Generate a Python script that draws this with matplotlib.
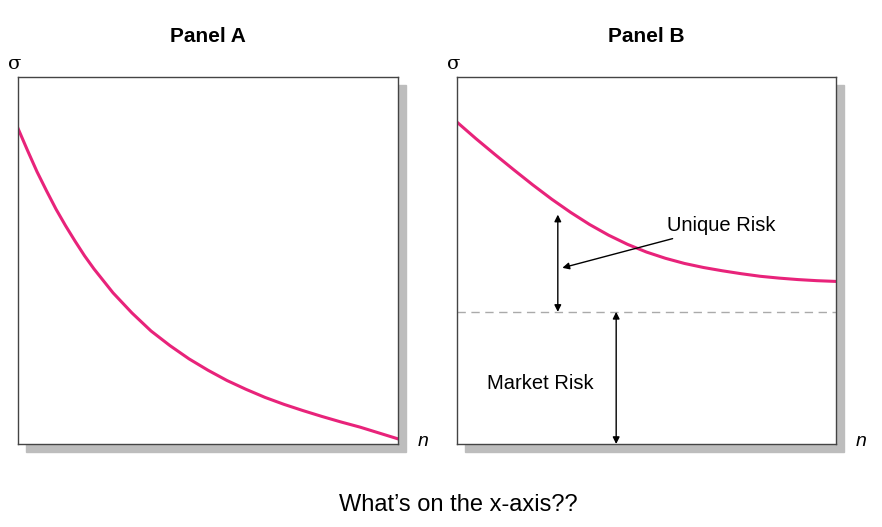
import matplotlib
matplotlib.use("Agg")
import matplotlib.pyplot as plt
from matplotlib.patches import Rectangle

xa = [0, 0.025, 0.05, 0.075, 0.1, 0.125, 0.15, 0.175, 0.2, 0.25, 0.3, 0.35, 0.4, 0.45,
      0.5, 0.55, 0.6, 0.65, 0.7, 0.75, 0.8, 0.85, 0.9, 0.95, 1.0]
ya = [0.86, 0.80, 0.742, 0.69, 0.64, 0.595, 0.553, 0.513, 0.477, 0.412, 0.357, 0.308,
      0.268, 0.232, 0.201, 0.173, 0.149, 0.127, 0.108, 0.091, 0.075, 0.06, 0.046, 0.03, 0.014]
xb = [0, 0.05, 0.1, 0.15, 0.2, 0.25, 0.3, 0.35, 0.4, 0.45, 0.5, 0.55, 0.6, 0.65, 0.7,
      0.75, 0.8, 0.85, 0.9, 0.95, 1.0]
yb = [0.877, 0.832, 0.789, 0.747, 0.706, 0.667, 0.631, 0.598, 0.569, 0.544, 0.523, 0.506,
      0.492, 0.481, 0.472, 0.464, 0.457, 0.452, 0.448, 0.445, 0.443]
market = 0.36

W, H = 882, 527
fig = plt.figure(figsize=(8.82, 5.27), dpi=100)
pink = "#e8237a"
fam = "Liberation Sans"

def box(x0, x1, y0, y1):
    return [x0 / W, 1 - y1 / H, (x1 - x0) / W, (y1 - y0) / H]

for (x0, x1, title, tx) in [(18, 398, "Panel A", 208), (457, 836, "Panel B", 646)]:
    fig.patches.append(Rectangle(((x0 + 8) / W, 1 - 452 / H), (x1 - x0) / W, 367 / H,
                                 transform=fig.transFigure, color="#bdbdbd", zorder=0))
    fig.text(tx / W, 1 - 37 / H, title, ha="center", va="center", fontsize=15,
             fontweight="bold", family=fam)
    fig.text((x0 - 3) / W, 1 - 64 / H, "σ", ha="center", va="center", fontsize=14, family="DejaVu Serif")
    fig.text((x1 + 25) / W, 1 - 441 / H, "n", ha="center", va="center", fontsize=14,
             style="italic", family=fam)

axA = fig.add_axes(box(18, 398, 77, 444))
axB = fig.add_axes(box(457, 836, 77, 444))
for ax in (axA, axB):
    ax.set_xlim(0, 1); ax.set_ylim(0, 1)
    ax.set_xticks([]); ax.set_yticks([])
    for s in ax.spines.values():
        s.set_color("#444444"); s.set_linewidth(1.0)
    ax.set_facecolor("white"); ax.set_zorder(2)

axA.plot(xa, ya, color=pink, lw=2.2, solid_joinstyle="round")
axB.plot(xb, yb, color=pink, lw=2.2, solid_joinstyle="round")
axB.axhline(market, color="#aaaaaa", lw=1, ls=(0, (6, 4)))

ap = dict(arrowstyle="<|-|>", color="black", lw=1, mutation_scale=10, shrinkA=0, shrinkB=0)
axB.annotate("", xy=(0.266, 0.625), xytext=(0.266, market), arrowprops=ap)
axB.annotate("", xy=(0.42, market), xytext=(0.42, 0.0), arrowprops=ap)
axB.annotate("Unique Risk", xy=(0.278, 0.48), xytext=(0.555, 0.595),
             fontsize=14.5, family=fam, va="center",
             arrowprops=dict(arrowstyle="-|>", color="black", lw=1, mutation_scale=10,
                             shrinkA=2, shrinkB=0))
axB.text(0.22, 0.166, "Market Risk", fontsize=14.5, family=fam,
         ha="center", va="center")

fig.text(458 / W, 1 - 505 / H, "What\u2019s on the x-axis??", ha="center", va="center",
         fontsize=17, family=fam)
fig.savefig("out.png", dpi=100)
